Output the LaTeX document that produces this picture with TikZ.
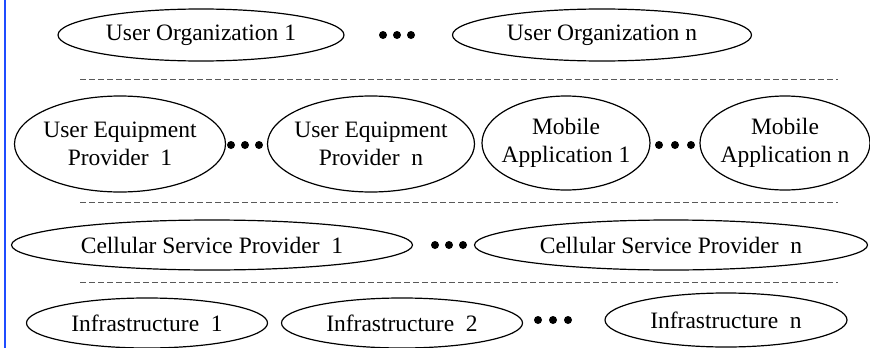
\documentclass[tikz,border=0pt]{standalone}
\usepackage{fontspec}
\setmainfont{Liberation Serif}
\usetikzlibrary{shapes.geometric}
\definecolor{edgeblue}{rgb}{0.12, 0.3, 1}
\definecolor{sepgray}{rgb}{0.35, 0.35, 0.35}
\tikzset{
	layer/.style={ellipse, draw, line width=1.2pt, inner sep=0pt, align=center,
		font=\fontsize{23.5}{28}\selectfont},
	tall/.style={inner xsep=-20pt},
	sepline/.style={sepgray, line width=1pt, dash pattern=on 6pt off 3pt},
}

\begin{document}
\begin{tikzpicture}[x=1pt, y=-1pt]
			\useasboundingbox (0, 0) rectangle (870, 348);
			\draw[edgeblue, line width=2pt] (5, 0) -- (5, 348);

			% user organizations
			\node[layer, minimum width=286pt, minimum height=52pt] (uo1) at (201, 35) {User Organization 1};
			\node[layer, minimum width=299pt, minimum height=52pt] (uon) at (602, 35) {User Organization n};

			% equipment providers and applications
			\node[layer, tall, minimum width=211pt, minimum height=96pt] (uep1) at (120, 144) {User Equipment\\Provider\ \ 1};
			\node[layer, tall, minimum width=207pt, minimum height=96pt] (uepn) at (371, 144) {User Equipment\\Provider\ \ n};
			\node[layer, tall, minimum width=168pt, minimum height=94pt] (ma1) at (566, 143) {Mobile\\Application 1};
			\node[layer, tall, minimum width=170pt, minimum height=94pt] (man) at (785, 143) {Mobile\\Application n};

			% cellular providers
			\node[layer, minimum width=401pt, minimum height=50pt] (csp1) at (212, 245) {Cellular Service Provider\ \ 1};
			\node[layer, minimum width=393pt, minimum height=50pt] (cspn) at (671, 245) {Cellular Service Provider\ \ n};

			% infrastructures
			\node[layer, minimum width=241pt, minimum height=50pt] (inf1) at (147, 323) {Infrastructure\ \ 1};
			\node[layer, minimum width=241pt, minimum height=50pt] (inf2) at (402, 323) {Infrastructure\ \ 2};
			\node[layer, minimum width=242pt, minimum height=54pt] (infn) at (726, 320) {Infrastructure\ \ n};

			\draw[sepline] (80, 79) -- (838, 79);
			\draw[sepline] (80, 202) -- (838, 202);
			\draw[sepline] (80, 282) -- (838, 282);

			\foreach \x/\y in {383/35, 397/35, 411/35,
					231/145, 245/145, 259/145, 659/145, 675/145, 691/145,
					435/245, 449/245, 463/245,
					538/320, 553/320, 568/320}
				\fill (\x, \y) circle[radius=4pt];
		\end{tikzpicture}
\end{document}
